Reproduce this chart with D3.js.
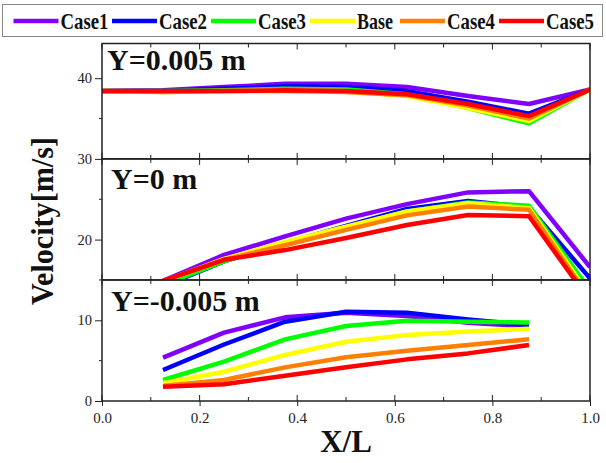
<!DOCTYPE html>
<html>
<head>
<meta charset="utf-8">
<script src="https://cdn.jsdelivr.net/npm/d3@7"></script>
<style>
  body { margin: 0; background: #fff; }
</style>
</head>
<body>
<svg id="chart" width="606" height="463"></svg>
<script>
// series names and colours (legend order = drawing order)
const cases = ["Case1", "Case2", "Case3", "Base", "Case4", "Case5"];
const colours = ["#8000ff", "#0000ff", "#00ff00", "#ffff00", "#ff8000", "#ff0000"];

// x/L positions
const xUpper = [0, 0.125, 0.25, 0.375, 0.5, 0.625, 0.75, 0.875, 1.0];
const xCentre = [0.125, 0.25, 0.375, 0.5, 0.625, 0.75, 0.875, 1.0];
const xLower = [0.125, 0.25, 0.375, 0.5, 0.625, 0.75, 0.875];

// velocity [m/s], one row per case
const velUpper = [
  [38.4, 38.5, 38.9, 39.3, 39.3, 38.9, 37.8, 36.8, 38.6],
  [38.4, 38.4, 38.7, 39.0, 38.9, 38.4, 37.1, 35.6, 38.6],
  [38.4, 38.4, 38.5, 38.7, 38.6, 38.0, 36.3, 34.4, 38.6],
  [38.4, 38.3, 38.4, 38.5, 38.4, 37.8, 36.3, 34.7, 38.6],
  [38.4, 38.3, 38.4, 38.4, 38.3, 37.9, 36.6, 35.0, 38.6],
  [38.4, 38.4, 38.4, 38.5, 38.4, 38.0, 36.8, 35.3, 38.6]
];
const velCentre = [
  [14.9, 18.1, 20.4, 22.6, 24.4, 25.85, 26.0, 16.6],
  [14.2, 17.3, 19.6, 21.7, 23.8, 24.8, 24.0, 15.2],
  [14.4, 17.3, 19.6, 21.5, 23.5, 24.6, 24.2, 13.7],
  [14.8, 17.6, 19.7, 21.6, 23.5, 24.5, 23.9, 13.0],
  [14.85, 17.5, 19.3, 21.2, 23.0, 24.1, 23.7, 12.6],
  [14.9, 17.5, 18.7, 20.2, 21.8, 23.05, 22.9, 12.4]
];
const velLower = [
  [5.37, 8.47, 10.37, 10.95, 10.53, 9.7, 9.25],
  [3.84, 7.0, 9.83, 11.07, 10.95, 10.1, 9.4],
  [2.6, 4.87, 7.64, 9.29, 9.95, 9.83, 9.72],
  [2.19, 3.63, 5.7, 7.35, 8.18, 8.6, 8.95],
  [1.86, 2.6, 4.17, 5.41, 6.23, 6.94, 7.64],
  [1.78, 2.07, 3.14, 4.17, 5.16, 5.9, 6.94]
];

const panels = [
  { label: "Y=0.005 m", lo: 30, hi: 44.3, xs: xUpper, vals: velUpper, lx: 107, ly: 70 },
  { label: "Y=0 m", lo: 15, hi: 30, xs: xCentre, vals: velCentre, lx: 111, ly: 189 },
  { label: "Y=-0.005 m", lo: 0, hi: 15, xs: xLower, vals: velLower, lx: 111, ly: 311 }
];

const xTicks = [0, 0.1, 0.2, 0.3, 0.4, 0.5, 0.6, 0.7, 0.8, 0.9, 1.0];
const yTicks = [0, 10, 20, 30, 40];
const SERIF = "'Liberation Serif', 'DejaVu Serif', serif";

const svg = d3.select("#chart");
const x = d3.scaleLinear().domain([0, 1]).range([102, 590]);
const y = d3.scaleLinear().domain([0, 44.3]).range([401, 43.5]);

// panels: clip, lines, frame, inner ticks, label
panels.forEach((p, i) => {
  const top = y(p.hi), bot = y(p.lo);
  svg.append("clipPath").attr("id", "clip" + i)
    .append("rect").attr("x", x(0)).attr("y", top)
    .attr("width", x(1) - x(0)).attr("height", bot - top);

  const line = d3.line().x((d, j) => x(p.xs[j])).y(d => y(d));
  svg.append("g").attr("clip-path", `url(#clip${i})`)
    .selectAll("path").data(p.vals).join("path")
    .attr("d", d => line(d))
    .attr("fill", "none")
    .attr("stroke", (d, j) => colours[j])
    .attr("stroke-width", 4.5)
    .attr("stroke-linejoin", "round");

  // inner x ticks on top and bottom edges
  const g = svg.append("g").attr("stroke", "#222").attr("stroke-width", 1);
  xTicks.forEach((t, k) => {
    const len = k % 2 === 0 ? 6 : 4;
    g.append("line").attr("x1", x(t)).attr("x2", x(t)).attr("y1", bot).attr("y2", bot - len);
    g.append("line").attr("x1", x(t)).attr("x2", x(t)).attr("y1", top).attr("y2", top + len);
  });

  svg.append("rect").attr("x", x(0)).attr("y", top)
    .attr("width", x(1) - x(0)).attr("height", bot - top)
    .attr("fill", "none").attr("stroke", "#222").attr("stroke-width", 1.5);

  svg.append("text").attr("x", p.lx).attr("y", p.ly)
    .style("font-family", SERIF)
    .attr("font-size", 30).attr("font-weight", "bold").attr("fill", "#111")
    .text(p.label);
});

// left axis
const yAxis = d3.axisLeft(y).tickValues(yTicks).tickSize(7).tickFormat(d3.format("d"));
const ya = svg.append("g").attr("transform", `translate(${x(0)},0)`).call(yAxis);
ya.select(".domain").remove();
ya.attr("font-family", null);
ya.selectAll("text").style("font-family", SERIF).attr("font-size", 14.5).attr("fill", "#222");
ya.selectAll("line").attr("stroke", "#222");
svg.append("g").selectAll("line").data([5, 15, 25, 35]).join("line")
  .attr("x1", x(0) - 3).attr("x2", x(0)).attr("y1", d => y(d)).attr("y2", d => y(d))
  .attr("stroke", "#222");

// bottom axis
const xAxis = d3.axisBottom(x).tickValues([0, 0.2, 0.4, 0.6, 0.8, 1.0]).tickSize(5).tickPadding(6).tickFormat(d3.format(".1f"));
const xa = svg.append("g").attr("transform", `translate(0,${y(0)})`).call(xAxis);
xa.select(".domain").remove();
xa.attr("font-family", null);
xa.selectAll("text").style("font-family", SERIF).attr("font-size", 15).attr("fill", "#222");
xa.selectAll("line").attr("stroke", "#222");

// axis titles
svg.append("text").attr("x", x(0.5)).attr("y", 452).attr("text-anchor", "middle")
  .style("font-family", SERIF)
  .attr("font-size", 31).attr("font-weight", "bold").attr("fill", "#111").text("X/L");
svg.append("text").attr("transform", "translate(53,221) rotate(-90)").attr("text-anchor", "middle")
  .style("font-family", SERIF)
  .attr("font-size", 31).attr("font-weight", "bold").attr("fill", "#111")
  .attr("textLength", 168).attr("lengthAdjust", "spacingAndGlyphs").text("Velocity[m/s]");

// legend
const legend = svg.append("g");
legend.append("rect").attr("x", 2.5).attr("y", 4.5).attr("width", 600).attr("height", 32)
  .attr("fill", "#fff").attr("stroke", "#888").attr("stroke-width", 1);
const legX = [13.5, 112, 211, 310, 400, 499];
cases.forEach((c, i) => {
  legend.append("line").attr("x1", legX[i]).attr("x2", legX[i] + 45)
    .attr("y1", 21).attr("y2", 21).attr("stroke", colours[i]).attr("stroke-width", 4.5);
  legend.append("text").attr("x", legX[i] + 47).attr("y", 29)
    .style("font-family", SERIF)
    .attr("font-size", 23).attr("font-weight", "bold").attr("fill", "#111")
    .attr("textLength", c === "Base" ? 36 : 48).attr("lengthAdjust", "spacingAndGlyphs")
    .text(c);
});
</script>
</body>
</html>
